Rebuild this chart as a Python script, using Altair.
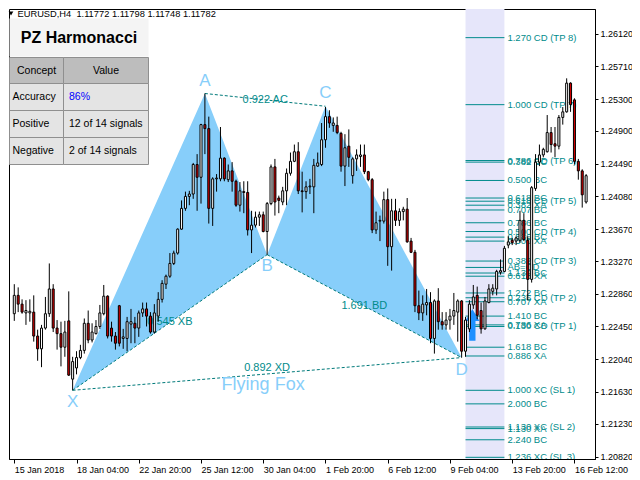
import altair as alt
import numpy as np
import pandas as pd

FONT = "Liberation Sans"
TEAL = "#008B8B"
DASH_TEAL = "#007A7A"
SKY = "#87CEFA"
RED = "#D80000"
ZONE_FILL = "#E6E6FA"
ARROW_BLUE = "#1E90FF"

# ---------------- candle data (EURUSD H4) ----------------
OPEN = [1.2261, 1.2284, 1.2273, 1.2262, 1.2262, 1.2263, 1.2233, 1.2217, 1.2243, 1.2261,
        1.2292, 1.2243, 1.2236, 1.2219, 1.2252, 1.2179, 1.2193, 1.2206, 1.2215, 1.2249,
        1.2228, 1.2236, 1.2245, 1.2261, 1.2283, 1.2243, 1.2233, 1.2271, 1.2230, 1.2230,
        1.2248, 1.2249, 1.2243, 1.2262, 1.2267, 1.2258, 1.2238, 1.2258, 1.2279, 1.2298,
        1.2308, 1.2324, 1.2337, 1.2367, 1.2393, 1.2408, 1.2411, 1.2448, 1.2432, 1.2498,
        1.2493, 1.2393, 1.2430, 1.2430, 1.2456, 1.2429, 1.2440, 1.2427, 1.2397, 1.2414,
        1.2413, 1.2366, 1.2372, 1.2382, 1.2385, 1.2364, 1.2399, 1.2445, 1.2406, 1.2401,
        1.2415, 1.2437, 1.2452, 1.2464, 1.2415, 1.2414, 1.2420, 1.2420, 1.2446, 1.2448,
        1.2479, 1.2508, 1.2497, 1.2497, 1.2487, 1.2446, 1.2471, 1.2434, 1.2455, 1.2458,
        1.2460, 1.2439, 1.2429, 1.2366, 1.2377, 1.2377, 1.2404, 1.2345, 1.2390, 1.2378,
        1.2389, 1.2392, 1.2352, 1.2338, 1.2271, 1.2262, 1.2272, 1.2275, 1.2230, 1.2277,
        1.2251, 1.2247, 1.2253, 1.2258, 1.2263, 1.2277, 1.2214, 1.2242, 1.2272, 1.2284,
        1.2265, 1.2242, 1.2275, 1.2289, 1.2292, 1.2313, 1.2314, 1.2347, 1.2353, 1.2352,
        1.2353, 1.2378, 1.2353, 1.2304, 1.2418, 1.2451, 1.2460, 1.2464, 1.2488, 1.2474,
        1.2471, 1.2507, 1.2514, 1.2550, 1.2529, 1.2452, 1.2440, 1.2401]
HIGH = [1.2298, 1.2294, 1.2279, 1.2278, 1.2279, 1.2284, 1.2241, 1.2247, 1.2282, 1.2324,
        1.2298, 1.2253, 1.2251, 1.2252, 1.2289, 1.2207, 1.2214, 1.2222, 1.2255, 1.2265,
        1.2249, 1.2253, 1.2272, 1.2297, 1.2284, 1.2251, 1.2238, 1.2272, 1.2242, 1.2257,
        1.2267, 1.2257, 1.2265, 1.2275, 1.2275, 1.2263, 1.2273, 1.2288, 1.2303, 1.2310,
        1.2337, 1.2340, 1.2368, 1.2403, 1.2414, 1.2415, 1.2450, 1.2461, 1.2499, 1.2537,
        1.2508, 1.2432, 1.2436, 1.2495, 1.2457, 1.2448, 1.2451, 1.2429, 1.2426, 1.2427,
        1.2427, 1.2390, 1.2389, 1.2389, 1.2389, 1.2401, 1.2448, 1.2455, 1.2409, 1.2420,
        1.2443, 1.2463, 1.2473, 1.2476, 1.2439, 1.2427, 1.2430, 1.2455, 1.2463, 1.2500,
        1.2520, 1.2516, 1.2507, 1.2508, 1.2489, 1.2486, 1.2492, 1.2457, 1.2467, 1.2473,
        1.2473, 1.2440, 1.2431, 1.2389, 1.2384, 1.2414, 1.2418, 1.2405, 1.2405, 1.2393,
        1.2395, 1.2406, 1.2356, 1.2341, 1.2290, 1.2284, 1.2292, 1.2288, 1.2279, 1.2293,
        1.2263, 1.2263, 1.2267, 1.2287, 1.2279, 1.2278, 1.2257, 1.2278, 1.2297, 1.2295,
        1.2275, 1.2282, 1.2298, 1.2298, 1.2316, 1.2329, 1.2346, 1.2358, 1.2356, 1.2358,
        1.2390, 1.2387, 1.2358, 1.2421, 1.2461, 1.2473, 1.2469, 1.2510, 1.2495, 1.2495,
        1.2510, 1.2520, 1.2556, 1.2551, 1.2531, 1.2455, 1.2442, 1.2436]
LOW = [1.2252, 1.2263, 1.2261, 1.2247, 1.2251, 1.2226, 1.2202, 1.2194, 1.2241, 1.2257,
       1.2238, 1.2216, 1.2195, 1.2207, 1.2183, 1.2165, 1.2185, 1.2204, 1.2211, 1.2224,
       1.2225, 1.2235, 1.2242, 1.2259, 1.2230, 1.2226, 1.2216, 1.2220, 1.2217, 1.2214,
       1.2224, 1.2224, 1.2232, 1.2257, 1.2245, 1.2236, 1.2236, 1.2251, 1.2275, 1.2292,
       1.2306, 1.2322, 1.2335, 1.2366, 1.2390, 1.2397, 1.2405, 1.2390, 1.2399, 1.2461,
       1.2374, 1.2371, 1.2414, 1.2427, 1.2427, 1.2426, 1.2414, 1.2395, 1.2389, 1.2387,
       1.2359, 1.2337, 1.2369, 1.2371, 1.2363, 1.2335, 1.2397, 1.2384, 1.2387, 1.2397,
       1.2397, 1.2434, 1.2451, 1.2411, 1.2388, 1.2405, 1.2411, 1.2387, 1.2445, 1.2446,
       1.2469, 1.2494, 1.2489, 1.2486, 1.2439, 1.2421, 1.2445, 1.2424, 1.2440, 1.2445,
       1.2436, 1.2427, 1.2362, 1.2361, 1.2352, 1.2374, 1.2321, 1.2315, 1.2371, 1.2371,
       1.2378, 1.2350, 1.2337, 1.2263, 1.2253, 1.2252, 1.2259, 1.2224, 1.2211, 1.2241,
       1.2241, 1.2241, 1.2241, 1.2247, 1.2226, 1.2206, 1.2207, 1.2238, 1.2267, 1.2254,
       1.2236, 1.2241, 1.2274, 1.2284, 1.2284, 1.2310, 1.2313, 1.2343, 1.2347, 1.2347,
       1.2350, 1.2352, 1.2278, 1.2300, 1.2415, 1.2446, 1.2457, 1.2463, 1.2463, 1.2457,
       1.2467, 1.2498, 1.2513, 1.2514, 1.2448, 1.2429, 1.2394, 1.2399]
CLOSE = [1.2284, 1.2273, 1.2263, 1.2265, 1.2264, 1.2233, 1.2217, 1.2243, 1.2261, 1.2292,
         1.2243, 1.2236, 1.2219, 1.2238, 1.2184, 1.2201, 1.2206, 1.2215, 1.2249, 1.2228,
         1.2238, 1.2245, 1.2262, 1.2283, 1.2233, 1.2233, 1.2224, 1.2224, 1.2232, 1.2251,
         1.2251, 1.2243, 1.2262, 1.2267, 1.2258, 1.2238, 1.2262, 1.2279, 1.2299, 1.2308,
         1.2324, 1.2337, 1.2367, 1.2393, 1.2408, 1.2411, 1.2448, 1.2432, 1.2498, 1.2493,
         1.2393, 1.2430, 1.2431, 1.2456, 1.2430, 1.2440, 1.2427, 1.2397, 1.2415, 1.2413,
         1.2366, 1.2372, 1.2382, 1.2385, 1.2364, 1.2399, 1.2445, 1.2401, 1.2403, 1.2415,
         1.2437, 1.2452, 1.2464, 1.2415, 1.2414, 1.2420, 1.2421, 1.2447, 1.2450, 1.2479,
         1.2508, 1.2500, 1.2500, 1.2488, 1.2446, 1.2469, 1.2457, 1.2455, 1.2460, 1.2460,
         1.2439, 1.2429, 1.2366, 1.2375, 1.2378, 1.2404, 1.2345, 1.2390, 1.2378, 1.2389,
         1.2392, 1.2351, 1.2338, 1.2271, 1.2262, 1.2273, 1.2275, 1.2230, 1.2277, 1.2251,
         1.2247, 1.2253, 1.2258, 1.2265, 1.2277, 1.2214, 1.2253, 1.2273, 1.2282, 1.2259,
         1.2242, 1.2277, 1.2292, 1.2293, 1.2314, 1.2315, 1.2343, 1.2351, 1.2350, 1.2356,
         1.2378, 1.2354, 1.2304, 1.2419, 1.2451, 1.2460, 1.2467, 1.2488, 1.2473, 1.2471,
         1.2507, 1.2514, 1.2550, 1.2523, 1.2452, 1.2440, 1.2410, 1.2434]

# ---------------- axes ----------------
XTICK_VALUES = [0, 16, 32, 48, 64, 80, 96, 112, 128, 144]
XTICK_LABELS = ["15 Jan 2018", "18 Jan 04:00", "22 Jan 20:00", "25 Jan 12:00", "30 Jan 04:00",
                "1 Feb 20:00", "6 Feb 12:00", "9 Feb 04:00", "13 Feb 20:00", "16 Feb 12:00"]
YTICK_VALUES = [1.26120, 1.25710, 1.25300, 1.24900, 1.24490, 1.24080, 1.23670,
                1.23270, 1.22860, 1.22450, 1.22040, 1.21630, 1.21230, 1.20820]
X_DOMAIN = [-0.075, 148.0]
Y_DOMAIN = [1.20789, 1.26429]

# ---------------- harmonic pattern ----------------
PATTERN_NAMES = ["X", "A", "B", "C", "D"]
PATTERN_BARS = [15, 49, 65, 80, 115]
PATTERN_PRICES = [1.2165, 1.2537, 1.2335, 1.2521, 1.2206]
PATTERN_LABEL_DY = [12, -12, 11, -13, 12]
SEG_FROM = ["X", "A", "B", "X"]
SEG_TO = ["B", "C", "D", "D"]
SEG_LABELS = ["0.545 XB", "0.922 AC", "1.691 BD", "0.892 XD"]
SEG_LABEL_DY = [0, 0, 0, -6]
PATTERN_TITLE = "Flying Fox"

# ---------------- projected levels ----------------
ZONE_START, ZONE_END = 116, 126
LEVEL_LABELS = ["1.270 CD (TP 8)", "1.000 CD (TP 7)", "0.786 CD (TP 6)", "0.382 BC", "0.500 BC",
                "0.618 BC", "0.618 CD (TP 5)", "0.382 XA", "0.707 BC", "0.786 BC",
                "0.500 CD (TP 4)", "0.886 BC", "0.500 XA", "0.382 CD (TP 3)", "AB=CD",
                "1.130 BC", "0.618 XA", "1.272 BC", "0.236 CD (TP 2)", "0.707 XA",
                "1.410 BC", "0.786 XA", "0.130 CD (TP 1)", "1.618 BC", "0.886 XA",
                "1.000 XC (SL 1)", "2.000 BC", "1.130 XC (SL 2)", "1.130 XA", "2.240 BC",
                "1.236 XC (SL 3)"]
LEVEL_PRICES = [1.2607, 1.2523, 1.2453, 1.2451, 1.2428,
                1.2406, 1.2402, 1.2397, 1.2391, 1.2375,
                1.2364, 1.2357, 1.2352, 1.2327, 1.2319,
                1.2312, 1.2308, 1.2287, 1.2281, 1.2276,
                1.2258, 1.2247, 1.2245, 1.2219, 1.2208,
                1.2165, 1.2148, 1.2119, 1.2117, 1.2103,
                1.2081]
SIGNAL_BAR, SIGNAL_PRICE = 117.75, 1.2247

# ---------------- info panel ----------------
HEADER_TEXT = "EURUSD,H4\u00a0 1.11772 1.11798 1.11748 1.11782"
PANEL_TITLE = "PZ Harmonacci"
TABLE_HEAD = ["Concept", "Value"]
TABLE_ROWS = ["Accuracy", "Positive", "Negative"]
TABLE_VALUES = ["86%", "12 of 14 signals", "2 of 14 signals"]
TABLE_VALUE_COLORS = ["#0000FF", "black", "black"]

# ---------------- frames ----------------
candles = pd.DataFrame({"i": range(len(OPEN)), "open": OPEN, "high": HIGH,
                        "low": LOW, "close": CLOSE})
candles["top"] = candles[["open", "close"]].max(axis=1)
candles["bot"] = candles[["open", "close"]].min(axis=1)
candles["dir"] = np.where(candles["close"] >= candles["open"], "up", "down")

pts = {n: (b, p) for n, b, p in zip(PATTERN_NAMES, PATTERN_BARS, PATTERN_PRICES)}


def triangle(a, b, c, name):
    (xa, pa), (xb, pb), (xc, pc) = pts[a], pts[b], pts[c]
    low_mid = float(np.interp(xb, [xa, xc], [pa, pc]))
    return pd.DataFrame({"tri": [name] * 3, "x": [xa, xb, xc],
                         "top": [pa, pb, pc], "bot": [pa, low_mid, pc]})


tri_df = pd.concat([triangle("X", "A", "B", "XAB"), triangle("B", "C", "D", "BCD")])

seg_df = pd.DataFrame({
    "x": [pts[a][0] for a in SEG_FROM], "y": [pts[a][1] for a in SEG_FROM],
    "x2": [pts[b][0] for b in SEG_TO], "y2": [pts[b][1] for b in SEG_TO],
    "label": SEG_LABELS, "dy": SEG_LABEL_DY})
seg_df["mx"] = (seg_df["x"] + seg_df["x2"]) / 2
seg_df["my"] = (seg_df["y"] + seg_df["y2"]) / 2

lvl_df = pd.DataFrame({"price": LEVEL_PRICES, "label": LEVEL_LABELS,
                       "x0": ZONE_START, "x1": ZONE_END})
zone_df = pd.DataFrame({"x0": [ZONE_START], "x1": [ZONE_END],
                        "y0": [Y_DOMAIN[0]], "y1": [Y_DOMAIN[1]]})
vert_df = pd.DataFrame({"name": PATTERN_NAMES, "x": PATTERN_BARS,
                        "y": PATTERN_PRICES, "dy": PATTERN_LABEL_DY})
xd = seg_df[seg_df["label"] == SEG_LABELS[3]]
title_df = pd.DataFrame({"x": xd["mx"].values, "y": xd["my"].values, "t": [PATTERN_TITLE]})
sig_df = pd.DataFrame({"x": [SIGNAL_BAR], "y": [SIGNAL_PRICE]})

# ---------------- scales / axes ----------------
xs = alt.Scale(domain=X_DOMAIN, nice=False, zero=False)
ys = alt.Scale(domain=Y_DOMAIN, nice=False, zero=False)
label_expr = ("[" + ",".join("'%s'" % s for s in XTICK_LABELS) + "][indexof(["
              + ",".join(str(v) for v in XTICK_VALUES) + "], datum.value)]")
xaxis = alt.Axis(values=XTICK_VALUES, labelExpr=label_expr, title=None, grid=False,
                 tickSize=4, labelAlign="left", labelBaseline="top", labelPadding=2,
                 labelFlush=False, labelOverlap=False, labelFont=FONT, labelFontSize=9,
                 labelColor="black", domainColor="black", tickColor="black")
yaxis = alt.Axis(orient="right", values=YTICK_VALUES, format=".5f", title=None, grid=False,
                 tickSize=3, labelAlign="left", labelBaseline="middle", labelPadding=2,
                 labelFlush=False, labelOverlap=False, labelFont=FONT, labelFontSize=9,
                 labelColor="black", domainColor="black", tickColor="black")


def X(f):
    return alt.X(f, type="quantitative", scale=xs, axis=xaxis)


def Y(f):
    return alt.Y(f, type="quantitative", scale=ys, axis=yaxis)


layers = []
layers.append(alt.Chart(zone_df).mark_rect(color=ZONE_FILL).encode(
    x=X("x0"), x2="x1", y=Y("y0"), y2="y1"))
layers.append(alt.Chart(tri_df).mark_area(color=SKY, opacity=1).encode(
    x=X("x"), y=Y("top"), y2="bot", detail="tri:N"))
layers.append(alt.Chart(seg_df).mark_rule(color=DASH_TEAL, strokeWidth=1, strokeDash=[3, 2]).encode(
    x=X("x"), y=Y("y"), x2="x2", y2="y2"))
layers.append(alt.Chart(lvl_df).mark_rule(color=TEAL, strokeWidth=1).encode(
    x=X("x0"), x2="x1", y=Y("price")))
layers.append(alt.Chart(lvl_df).mark_text(align="left", baseline="middle", dx=3, font=FONT,
                                          fontSize=9.5, color=TEAL, clip=True).encode(
    x=X("x1"), y=Y("price"), text="label"))
for dy in sorted(set(SEG_LABEL_DY)):
    sub = seg_df[seg_df["dy"] == dy]
    layers.append(alt.Chart(sub).mark_text(align="center", baseline="middle", dy=dy, font=FONT,
                                           fontSize=11, color=TEAL).encode(
        x=X("mx"), y=Y("my"), text="label"))
for _, r in vert_df.iterrows():
    layers.append(alt.Chart(vert_df[vert_df["name"] == r["name"]]).mark_text(
        align="center", baseline="middle", dy=int(r["dy"]), font=FONT, fontSize=17,
        color=SKY).encode(x=X("x"), y=Y("y"), text="name"))
layers.append(alt.Chart(title_df).mark_text(align="center", baseline="middle", dy=11, dx=-4,
                                            font=FONT, fontSize=18, color=SKY).encode(
    x=X("x"), y=Y("y"), text="t"))
ARROW = "M0,-1L0.45,-0.25L0.2,-0.25L0.2,1L-0.2,1L-0.2,-0.25L-0.45,-0.25Z"
layers.append(alt.Chart(sig_df).mark_point(shape=ARROW, size=1000, filled=True, opacity=1,
                                           color=ARROW_BLUE, strokeWidth=0).encode(
    x=X("x"), y=Y("y")))
layers.append(alt.Chart(candles).mark_rule(color="black", strokeWidth=1).encode(
    x=X("i"), y=Y("low"), y2="high"))
layers.append(alt.Chart(candles).mark_bar(size=2, stroke="black", strokeWidth=1).encode(
    x=X("i"), y=Y("bot"), y2="top",
    fill=alt.Fill("dir:N", scale=alt.Scale(domain=["up", "down"], range=["white", RED]),
                  legend=None)))

# ---------------- info panel (pixel overlay) ----------------
one = pd.DataFrame({"k": [0]})


def px_rect(x0, x1, y0, y1, fill, stroke=None):
    kw = {"fill": fill}
    if stroke:
        kw.update(stroke=stroke, strokeWidth=1)
    return alt.Chart(one).mark_rect(**kw).encode(
        x=alt.value(x0), x2=alt.value(x1), y=alt.value(y0), y2=alt.value(y1))


def px_text(s, x, y, **kw):
    return alt.Chart(one).mark_text(text=s, font=FONT, baseline="middle", **kw).encode(
        x=alt.value(x), y=alt.value(y))


TL, TM, TR = 0.5, 54.5, 139.5
ROW_Y = [48.5, 74.5, 101.5, 128.5, 155.5]
layers.append(px_rect(TL, TR, 9.5, 47.5, "#F4F4F4"))
layers.append(px_text(PANEL_TITLE, (TL + TR) / 2, 28.5, align="center", fontSize=16,
                      fontWeight="bold", color="black"))
for k in range(4):
    bg = "#BDBDBD" if k == 0 else "#E4E4E4"
    layers.append(px_rect(TL, TM, ROW_Y[k], ROW_Y[k + 1], bg, "#8F8F8F"))
    layers.append(px_rect(TM, TR, ROW_Y[k], ROW_Y[k + 1], bg, "#8F8F8F"))
yc0 = (ROW_Y[0] + ROW_Y[1]) / 2
layers.append(px_text(TABLE_HEAD[0], (TL + TM) / 2, yc0, align="center", fontSize=10.5, color="black"))
layers.append(px_text(TABLE_HEAD[1], (TM + TR) / 2, yc0, align="center", fontSize=10.5, color="black"))
for k, (lab, val, col) in enumerate(zip(TABLE_ROWS, TABLE_VALUES, TABLE_VALUE_COLORS)):
    yc = (ROW_Y[k + 1] + ROW_Y[k + 2]) / 2
    layers.append(px_text(lab, 3.5, yc, align="left", fontSize=10.5, color="black"))
    layers.append(px_text(val, 60.0, yc, align="left", fontSize=10.5, color=col))
layers.append(alt.Chart(one).mark_point(shape="triangle-down", filled=True, color="black",
                                        size=22, opacity=1).encode(
    x=alt.value(2.0), y=alt.value(4.5)))
layers.append(px_text(HEADER_TEXT, 8.5, 5.0, align="left", fontSize=9.3, color="black"))

chart = alt.layer(*layers).properties(
    width=586, height=450,
    padding={"left": 1, "top": 1, "right": 37, "bottom": 17},
    autosize=alt.AutoSizeParams(type="none"),
).configure_view(stroke="black", strokeWidth=1)

chart.save("out.html", embed_options={"renderer": "svg", "actions": False})
